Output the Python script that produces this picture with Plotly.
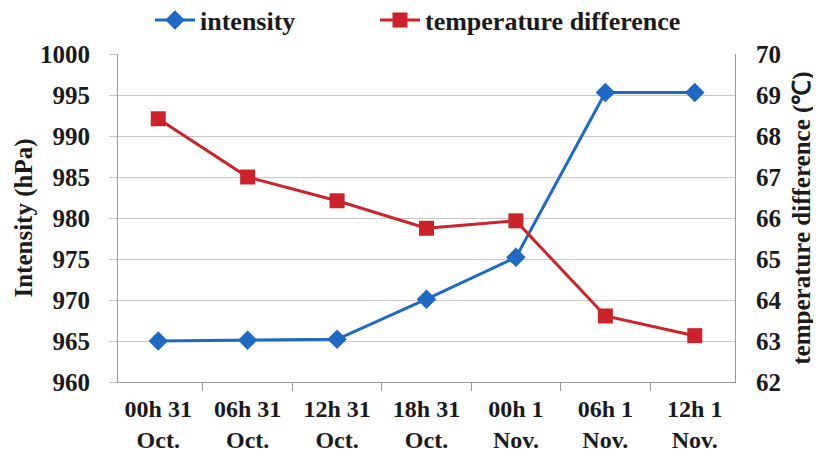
import plotly.graph_objects as go

categories = ["00h 31<br>Oct.", "06h 31<br>Oct.", "12h 31<br>Oct.", "18h 31<br>Oct.",
              "00h 1<br>Nov.", "06h 1<br>Nov.", "12h 1<br>Nov."]
intensity = [965.0, 965.1, 965.2, 970.1, 975.2, 995.3, 995.3]
temp_diff = [68.42, 67.0, 66.42, 65.75, 65.93, 63.61, 63.13]

left_ticks = [960, 965, 970, 975, 980, 985, 990, 995, 1000]
right_ticks = [62, 63, 64, 65, 66, 67, 68, 69, 70]

FONT = "'Liberation Serif', 'Times New Roman', serif"
BLUE = "#1f68c4"
RED = "#cc2229"
TXT = "#1a1a1a"

fig = go.Figure()
fig.add_trace(go.Scatter(
    x=categories, y=intensity, name="<b>intensity</b>", mode="lines+markers",
    line=dict(color=BLUE, width=3),
    marker=dict(symbol="diamond", size=15, color=BLUE),
    yaxis="y", legend="legend",
))
fig.add_trace(go.Scatter(
    x=categories, y=temp_diff, name="<b>temperature difference</b>", mode="lines+markers",
    line=dict(color=RED, width=3),
    marker=dict(symbol="square", size=15, color=RED),
    yaxis="y2", legend="legend2",
))

leg_common = dict(orientation="h", xanchor="left", xref="container",
                  y=1 - 12 / 448, yanchor="middle", yref="container",
                  font=dict(size=26, family=FONT, color=TXT),
                  itemwidth=40, bgcolor="rgba(0,0,0,0)")

fig.update_layout(
    width=813, height=448,
    margin=dict(l=110, r=86, t=46, b=74, autoexpand=False),
    paper_bgcolor="white", plot_bgcolor="white",
    font=dict(family=FONT, color=TXT),
    showlegend=True,
    legend=dict(x=142 / 813, **leg_common),
    legend2=dict(x=367 / 813, **leg_common),
    xaxis=dict(
        type="category", showgrid=False, showline=True, linecolor="#9a9a9a", linewidth=1,
        ticks="outside", tickson="boundaries", ticklen=8, tickcolor="#9a9a9a",
        ticklabelstandoff=5,
        tickfont=dict(size=24, family=FONT, color=TXT),
        mirror=False, automargin=False,
    ),
    yaxis=dict(
        range=[960, 1000], tickvals=left_ticks,
        ticktext=[f"<b>{v}</b>" for v in left_ticks],
        showgrid=True, gridcolor="#c8c8c8", gridwidth=1,
        showline=True, linecolor="#9a9a9a", linewidth=1,
        ticks="outside", ticklen=8, tickcolor="#c8c8c8",
        ticklabelstandoff=14,
        tickfont=dict(size=25, family=FONT, color=TXT),
        title=dict(text="<b>Intensity (hPa)</b>", font=dict(size=25, family=FONT, color=TXT), standoff=0),
        zeroline=False, automargin=False,
    ),
    yaxis2=dict(
        range=[62, 70], tickvals=right_ticks,
        ticktext=[f"<b>{v}</b>" for v in right_ticks],
        overlaying="y", side="right", showgrid=False,
        showline=True, linecolor="#9a9a9a", linewidth=1,
        ticks="", ticklabelstandoff=15,
        tickfont=dict(size=25, family=FONT, color=TXT),
        title=dict(text="<b>temperature difference (℃)</b>", font=dict(size=25, family=FONT, color=TXT), standoff=11),
        zeroline=False, automargin=False,
    ),
)

fig.update_xaxes(ticktext=[f"<b>{c}</b>" for c in categories], tickvals=categories)

fig.write_html("out.html")
